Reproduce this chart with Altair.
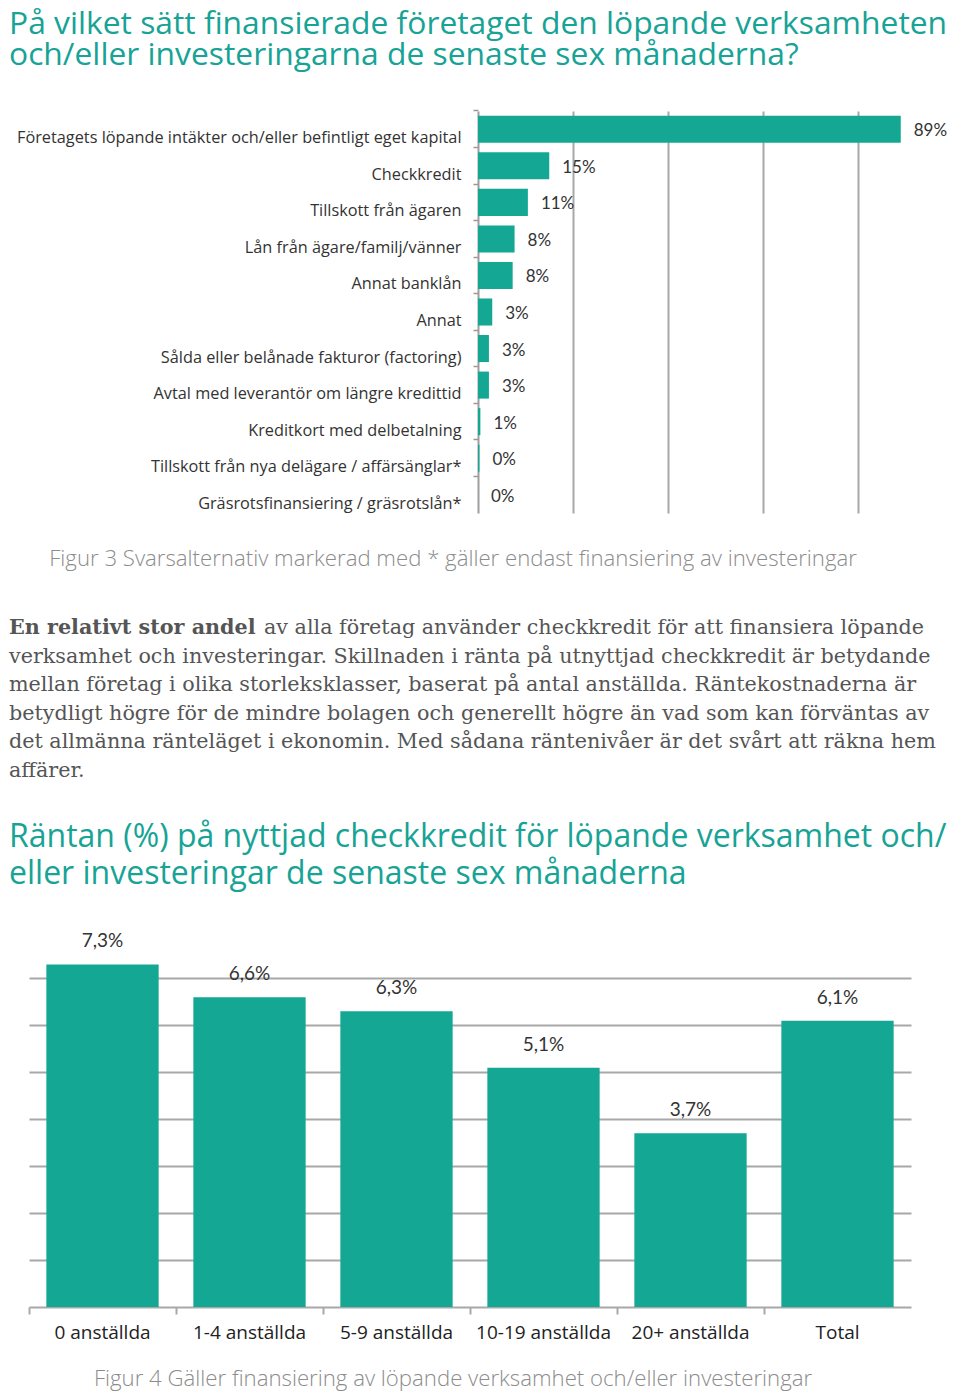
import altair as alt
import pandas as pd

# ---------------- data ----------------
title1_lines = [
    "På vilket sätt finansierade företaget den löpande verksamheten",
    "och/eller investeringarna de senaste sex månaderna?",
]
fin_categories = [
    "Företagets löpande intäkter och/eller befintligt eget kapital",
    "Checkkredit",
    "Tillskott från ägaren",
    "Lån från ägare/familj/vänner",
    "Annat banklån",
    "Annat",
    "Sålda eller belånade fakturor (factoring)",
    "Avtal med leverantör om längre kredittid",
    "Kreditkort med delbetalning",
    "Tillskott från nya delägare / affärsänglar*",
    "Gräsrotsfinansiering / gräsrotslån*",
]
fin_values = [89, 15, 10.5, 7.7, 7.3, 3.0, 2.3, 2.3, 0.5, 0.3, 0.0]
fin_labels = ["89%", "15%", "11%", "8%", "8%", "3%", "3%", "3%", "1%", "0%", "0%"]
fin_grid = [20, 40, 60, 80]

caption1 = "Figur 3 Svarsalternativ markerad med * gäller endast finansiering av investeringar"
para_bold = "En relativt stor andel"
para_first_rest = "av alla företag använder checkkredit för att finansiera löpande"
para_lines = [
    "verksamhet och investeringar. Skillnaden i ränta på utnyttjad checkkredit är betydande",
    "mellan företag i olika storleksklasser, baserat på antal anställda. Räntekostnaderna är",
    "betydligt högre för de mindre bolagen och generellt högre än vad som kan förväntas av",
    "det allmänna ränteläget i ekonomin. Med sådana räntenivåer är det svårt att räkna hem",
    "affärer.",
]
title2_lines = [
    "Räntan (%) på nyttjad checkkredit för löpande verksamhet och/",
    "eller investeringar de senaste sex månaderna",
]
size_categories = ["0 anställda", "1-4 anställda", "5-9 anställda",
                   "10-19 anställda", "20+ anställda", "Total"]
rate_values = [7.3, 6.6, 6.3, 5.1, 3.7, 6.1]
rate_labels = ["7,3%", "6,6%", "6,3%", "5,1%", "3,7%", "6,1%"]
rate_grid = [1, 2, 3, 4, 5, 6, 7]
caption2 = "Figur 4 Gäller finansiering av löpande verksamhet och/eller investeringar"

# ---------------- style ----------------
BAR = "#14a894"
TITLE = "#17a396"
GRID = "#a8a8a8"
SANS = "Open Sans"
NUM = "Lato"
SERIF = "DejaVu Serif"
W = 882
LEFT = -20


def text_line(txt, x, y, size, color, font=SANS, weight="normal",
              align="left", baseline="alphabetic"):
    return alt.Chart(pd.DataFrame({"t": [txt]})).mark_text(
        align=align, baseline=baseline, font=font, fontSize=size,
        fontWeight=weight, color=color
    ).encode(x=alt.value(x), y=alt.value(y), text="t:N")


# ---------------- cell: title 1 ----------------
cell_title = alt.layer(
    text_line(title1_lines[0], LEFT, 0, 31.8, TITLE, baseline="top"),
    text_line(title1_lines[1], LEFT, 31, 31.8, TITLE, baseline="top"),
).properties(width=W, height=102)

# ---------------- cell: horizontal bars ----------------
fin_df = pd.DataFrame({"cat": fin_categories, "value": fin_values, "label": fin_labels})
yenc = alt.Y(
    "cat:N", sort=fin_categories,
    scale=alt.Scale(paddingInner=0.26, paddingOuter=0.13),
    axis=alt.Axis(title=None, offset=-449, labelFont=SANS, labelFontSize=16.3,
                  labelColor="#333333", labelLimit=0, labelPadding=12,
                  labelOffset=9, tickSize=5, tickColor="#a39494", tickWidth=1.5,
                  bandPosition=-0.176, domainColor="#9e9e9e", domainWidth=2,
                  minExtent=0),
)
xenc = alt.X(
    "value:Q",
    scale=alt.Scale(domain=[0, 100], range=[449, 924], nice=False),
    axis=alt.Axis(title=None, values=fin_grid, labels=False, ticks=False,
                  domain=False, grid=True, gridColor=GRID, gridWidth=2,
                  minExtent=0),
)
fin_bars = alt.Chart(fin_df).mark_bar(color=BAR).encode(x=xenc, y=yenc)
fin_text = alt.Chart(fin_df).mark_text(
    align="left", baseline="middle", dx=13, dy=2, font=NUM, fontSize=17,
    color="#333333"
).encode(x=xenc, y=yenc, text="label:N")
cell_fin = alt.layer(fin_bars, fin_text).properties(width=W, height=402)

# ---------------- cell: caption, paragraph, title 2 ----------------
mid_layers = [text_line(caption1, 424, 46, 22.2, "#8c8c8c", weight=300,
                        align="center", baseline="middle")]
mid_layers.append(text_line(para_bold, LEFT, 121, 20.7, "#555555", font=SERIF, weight="bold"))
mid_layers.append(text_line(para_first_rest, 235, 121, 20.7, "#555555", font=SERIF))
for i, ln in enumerate(para_lines):
    mid_layers.append(text_line(ln, LEFT, 150 + i * 28.4, 20.7, "#555555", font=SERIF))
mid_layers.append(text_line(title2_lines[0], LEFT, 334, 32, TITLE))
mid_layers.append(text_line(title2_lines[1], LEFT, 371, 32, TITLE))
cell_mid = alt.layer(*mid_layers).properties(width=W, height=442)

# ---------------- cell: vertical bars ----------------
rate_df = pd.DataFrame({"size": size_categories, "rate": rate_values, "label": rate_labels})
xb = alt.X(
    "size:N", sort=size_categories,
    scale=alt.Scale(paddingInner=0.236, paddingOuter=0.118),
    axis=alt.Axis(title=None, labelAngle=0, labelFont=SANS, labelFontSize=19,
                  labelColor="#222222", labelPadding=9, labelLimit=0,
                  tickSize=7, tickColor="#a8a8a8", tickWidth=2,
                  bandPosition=-0.154, domainColor="#a8a8a8", domainWidth=2,
                  minExtent=0),
)
yb = alt.Y(
    "rate:Q",
    scale=alt.Scale(domain=[0, 7.5], nice=False),
    axis=alt.Axis(title=None, values=rate_grid, labels=False, ticks=False,
                  domain=False, grid=True, gridColor=GRID, gridWidth=2,
                  minExtent=0),
)
rate_bars = alt.Chart(rate_df).mark_bar(color=BAR).encode(x=xb, y=yb)
rate_text = alt.Chart(rate_df).mark_text(
    align="center", baseline="alphabetic", dy=-17, font=NUM, fontSize=19,
    color="#333333"
).encode(x=xb, y=yb, text="label:N")
cell_rate = alt.layer(rate_bars, rate_text).properties(width=W, height=352)

# ---------------- cell: caption 2 ----------------
cell_cap2 = text_line(caption2, 424, 72, 22.2, "#8c8c8c", weight=300,
                      align="center", baseline="middle").properties(width=W, height=84)

chart = alt.vconcat(
    cell_title, cell_fin, cell_mid, cell_rate, cell_cap2,
    spacing=0, bounds="flush"
).properties(padding=0, background="white").configure_view(stroke="transparent")

chart.save("out.html", embed_options={"renderer": "svg", "actions": False})
